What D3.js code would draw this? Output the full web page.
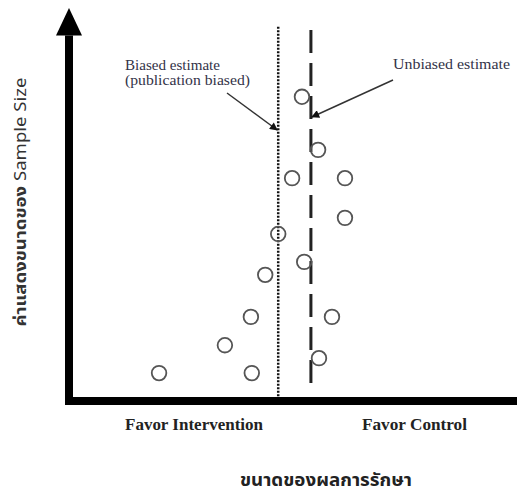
<!DOCTYPE html>
<html><head><meta charset="utf-8">
<script src="https://cdn.jsdelivr.net/npm/d3@7"></script>
<style>body{margin:0;background:#fff}svg{display:block}</style>
</head><body>
<svg id="c" width="517" height="495"></svg>
<script>
// Study effect sizes (x) and sample-size position (y), 0-100 arbitrary units
const effects =     [52.0, 55.6, 49.8, 61.6, 61.6, 46.7, 52.5, 43.8, 40.6, 58.7, 34.8, 55.8, 20.1, 40.8];
const sampleSizes = [77.4, 63.9, 56.7, 56.7, 46.6, 42.5, 35.4, 32.1, 21.4, 21.4, 14.2, 10.9, 7.1, 7.1];
const estimates = [
  {name: "biased", value: 46.7},
  {name: "unbiased", value: 54.0}
];
const xLabels = ["Favor Intervention", "Favor Control"];
const xTitle = "ขนาดของผลการรักษา";
const yTitleThai = "ค่าแสดงขนาดของ";
const yTitleEn = "Sample Size";
const annotations = ["Biased estimate", "(publication biased)", "Unbiased estimate"];

const svg = d3.select("#c");
const x = d3.scaleLinear().domain([0, 100]).range([69, 517]);
const y = d3.scaleLinear().domain([0, 100]).range([401, 8]);

const defs = svg.append("defs");
defs.append("marker").attr("id", "ah").attr("viewBox", "0 0 10 10")
  .attr("refX", 9).attr("refY", 5).attr("markerWidth", 10).attr("markerHeight", 8)
  .attr("markerUnits", "userSpaceOnUse").attr("orient", "auto")
  .append("path").attr("d", "M0,0L10,5L0,10Z").attr("fill", "#111");

// Axes
svg.append("line").attr("x1", x(0)).attr("x2", x(0)).attr("y1", y(93)).attr("y2", y(-1))
  .attr("stroke", "#000").attr("stroke-width", 8);
svg.append("line").attr("x1", x(0) - 4).attr("x2", x(100)).attr("y1", y(0)).attr("y2", y(0))
  .attr("stroke", "#000").attr("stroke-width", 8);
svg.append("path")
  .attr("d", `M${x(0)},${y(100)}L${x(0) + 13},${y(93)}L${x(0) - 13},${y(93)}Z`)
  .attr("fill", "#000");

// Estimate lines
svg.append("line").attr("x1", x(estimates[0].value)).attr("x2", x(estimates[0].value))
  .attr("y1", y(95.2)).attr("y2", y(1.2))
  .attr("stroke", "#111").attr("stroke-width", 2.5).attr("stroke-dasharray", "2,1.5");
svg.append("line").attr("x1", x(estimates[1].value)).attr("x2", x(estimates[1].value))
  .attr("y1", y(94.4)).attr("y2", y(3.6))
  .attr("stroke", "#222").attr("stroke-width", 3).attr("stroke-dasharray", "23,10");

// Points
svg.selectAll("circle.pt").data(effects).join("circle").attr("class", "pt")
  .attr("cx", d => x(d)).attr("cy", (d, i) => y(sampleSizes[i])).attr("r", 7.3)
  .attr("fill", "none").attr("stroke", "#555").attr("stroke-width", 1.8);

// Annotation text
const serif = "'Liberation Serif', 'Times New Roman', serif";
svg.append("text").attr("x", 125).attr("y", 70).attr("font-family", serif).attr("font-size", 14.5)
  .attr("fill", "#333348").attr("textLength", 95).attr("lengthAdjust", "spacingAndGlyphs").text(annotations[0]);
svg.append("text").attr("x", 125).attr("y", 85).attr("font-family", serif).attr("font-size", 14.5)
  .attr("fill", "#333348").attr("textLength", 125).attr("lengthAdjust", "spacingAndGlyphs").text(annotations[1]);
svg.append("text").attr("x", 393).attr("y", 69).attr("font-family", serif).attr("font-size", 14.5)
  .attr("fill", "#333348").attr("textLength", 117).attr("lengthAdjust", "spacingAndGlyphs").text(annotations[2]);

// Arrows
svg.append("line").attr("x1", 227).attr("y1", 93).attr("x2", x(estimates[0].value) - 1).attr("y2", 130)
  .attr("stroke", "#333").attr("stroke-width", 1.5).attr("marker-end", "url(#ah)");
svg.append("line").attr("x1", 393).attr("y1", 80).attr("x2", x(estimates[1].value) + 1).attr("y2", 117)
  .attr("stroke", "#333").attr("stroke-width", 1.5).attr("marker-end", "url(#ah)");

// X labels
svg.append("text").attr("x", 125).attr("y", 430).attr("font-family", serif).attr("font-weight", "bold")
  .attr("font-size", 16).attr("fill", "#222").attr("textLength", 138).attr("lengthAdjust", "spacingAndGlyphs").text(xLabels[0]);
svg.append("text").attr("x", 362).attr("y", 430).attr("font-family", serif).attr("font-weight", "bold")
  .attr("font-size", 16).attr("fill", "#222").attr("textLength", 105).attr("lengthAdjust", "spacingAndGlyphs").text(xLabels[1]);

// Titles
svg.append("text").attr("x", 326).attr("y", 486).attr("text-anchor", "middle")
  .attr("font-family", "'Noto Sans Thai', 'Noto Sans', 'DejaVu Sans', sans-serif").attr("font-weight", "bold")
  .attr("font-size", 18).attr("fill", "#222").attr("textLength", 172).attr("lengthAdjust", "spacingAndGlyphs").text(xTitle);
const yt = svg.append("text").attr("transform", "translate(26,202) rotate(-90)").attr("text-anchor", "middle")
  .attr("font-family", "'Noto Sans Thai', 'Liberation Sans', Arial, sans-serif")
  .attr("font-size", 16).attr("fill", "#333").attr("textLength", 249).attr("lengthAdjust", "spacingAndGlyphs");
yt.append("tspan").attr("font-weight", "bold").text(yTitleThai + " ");
yt.append("tspan").text(yTitleEn);
</script>
</body></html>
